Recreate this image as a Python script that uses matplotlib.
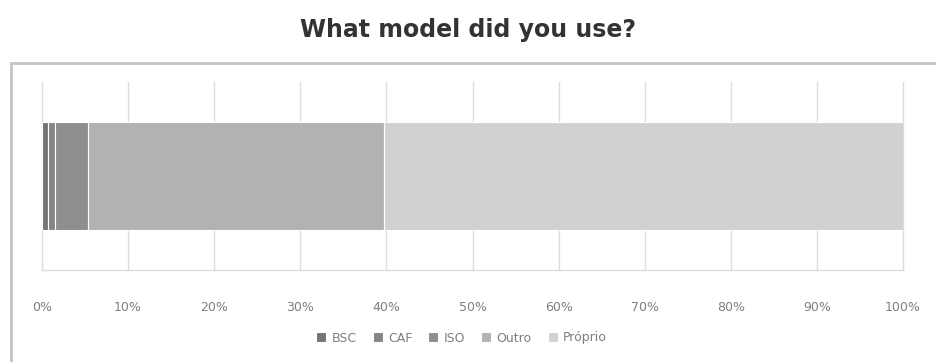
import numpy as np
import matplotlib.pyplot as plt
from matplotlib.patches import Rectangle

# ---- data (share of answers, %) ----
categories = ["BSC", "CAF", "ISO", "Outro", "Próprio"]
shares = [0.75, 0.75, 3.85, 34.35, 60.3]
colors = ["#747474", "#858585", "#8e8e8e", "#b2b2b2", "#d1d1d1"]
ticks = np.arange(0, 101, 10)
tick_labels = [f"{t}%" for t in ticks]

fig = plt.figure(figsize=(9.36, 3.62), dpi=100)
ax = fig.add_axes([42/936, 1 - 270/362, (903 - 42)/936, (270 - 82)/362])

# stacked horizontal bar
left = 0.0
for cat, val, col in zip(categories, shares, colors):
    ax.barh(0, val, left=left, height=0.57, color=col, edgecolor="white",
            linewidth=0.8, label=cat, zorder=3)
    left += val

ax.set_xlim(0, 100)
ax.set_ylim(-0.5, 0.5)
ax.set_yticks([])
ax.set_xticks(ticks)
ax.set_xticklabels(tick_labels, color="#7f7f7f", fontsize=9)
ax.tick_params(axis="x", length=0, pad=22)
ax.grid(axis="x", color="#dcdcdc", linewidth=1.0, zorder=0)
for gl in ax.get_xgridlines():
    gl.set_clip_on(False)
for s in ["top", "right", "left"]:
    ax.spines[s].set_visible(False)
ax.spines["bottom"].set_color("#dcdcdc")
ax.spines["bottom"].set_linewidth(1.0)

# chart-area frame (runs off the right/bottom edge)
fig.patches.append(Rectangle((11/936, -0.1), 1.0, (362 + 36 - 63)/362,
                             transform=fig.transFigure, fill=False,
                             edgecolor="#c4c4c4", linewidth=2, clip_on=False))

fig.suptitle("What model did you use?", x=0.5, y=1 - 30/362, va="center",
             fontsize=17, fontweight="bold", color="#333333")

ax.legend(loc="center", bbox_to_anchor=(0.493, 1 - 338/362), bbox_transform=fig.transFigure,
          ncol=5, frameon=False, fontsize=9, labelcolor="#7f7f7f",
          handlelength=0.8, handleheight=0.8, handletextpad=0.4, columnspacing=1.3)

fig.savefig("out.png", dpi=100)
